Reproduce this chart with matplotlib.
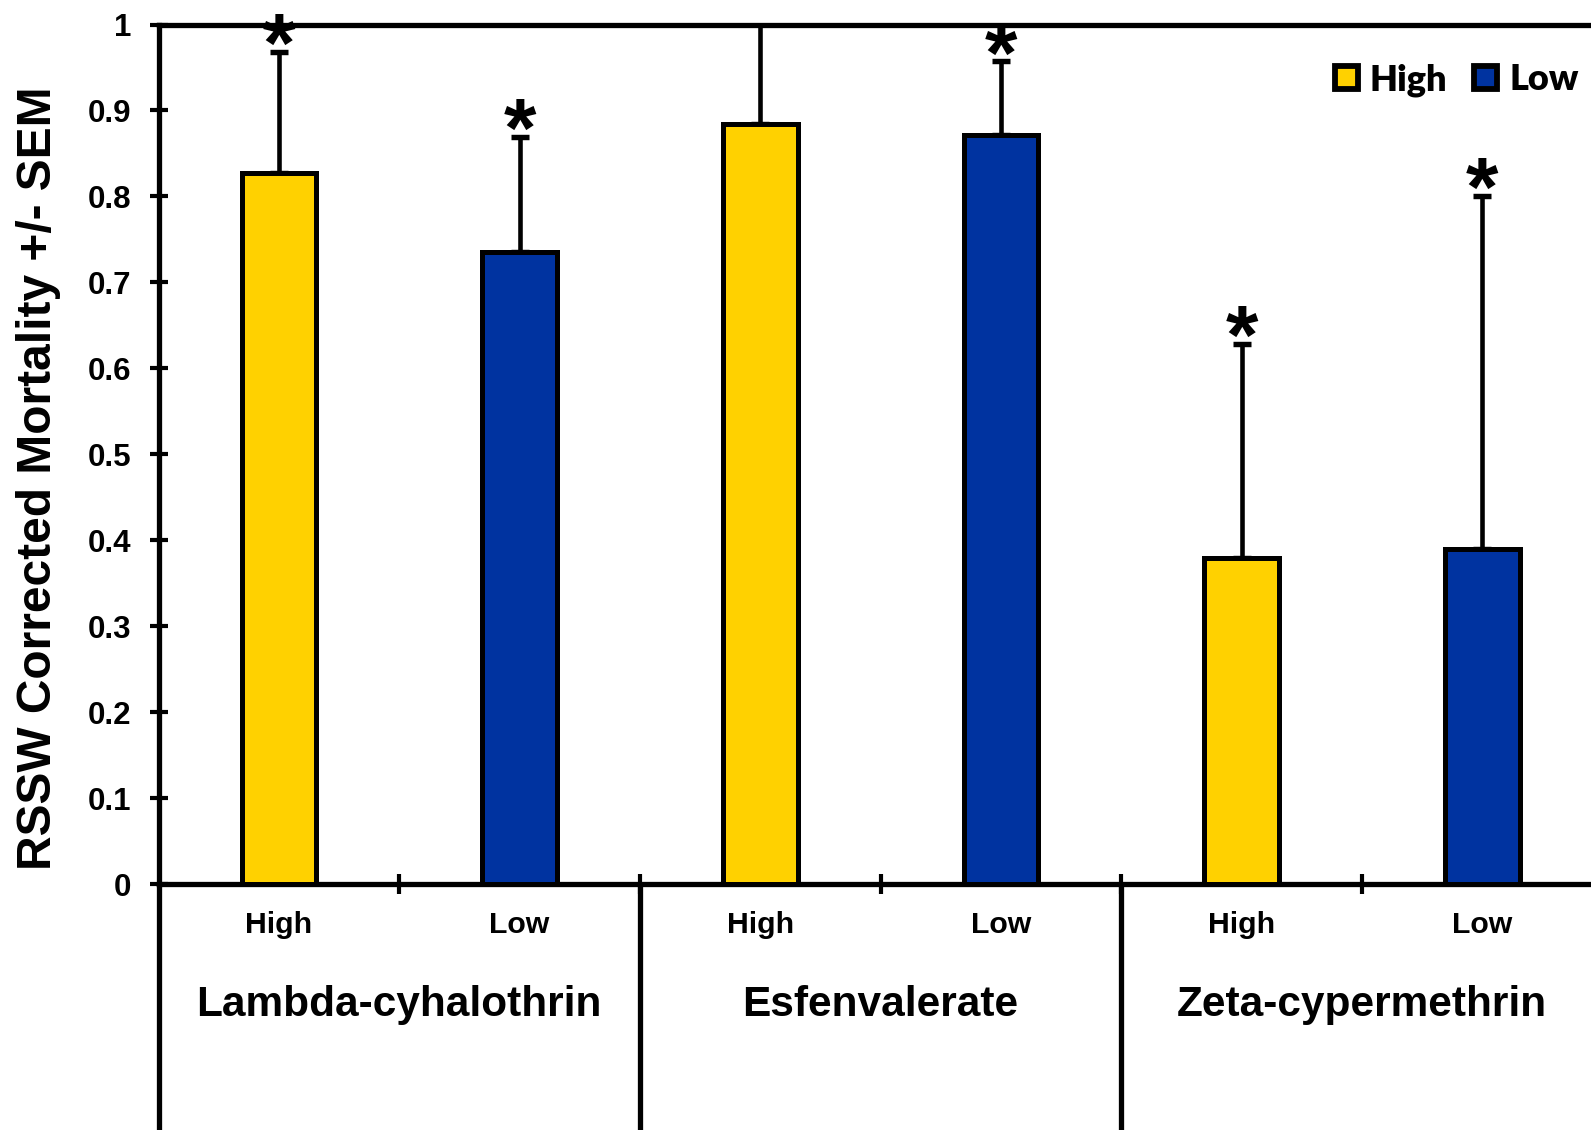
import matplotlib
matplotlib.use("Agg")
import matplotlib.pyplot as plt
from matplotlib.patches import Patch

# ---- data -------------------------------------------------------------
insecticides = ["Lambda-cyhalothrin", "Esfenvalerate", "Zeta-cypermethrin"]
rates = ["High", "Low"]
high_mortality = [0.827, 0.884, 0.379]
low_mortality = [0.735, 0.872, 0.390]
high_sem = [0.141, 0.140, 0.249]
low_sem = [0.134, 0.085, 0.411]
high_signif = [True, False, True]
low_signif = [True, True, True]
ytick_values = [0, 0.1, 0.2, 0.3, 0.4, 0.5, 0.6, 0.7, 0.8, 0.9, 1.0]
ytick_labels = ["0", "0.1", "0.2", "0.3", "0.4", "0.5", "0.6", "0.7", "0.8", "0.9", "1"]
ylabel = "RSSW Corrected Mortality +/- SEM"

# ---- style ------------------------------------------------------------
rate_colors = {"High": "#FFD100", "Low": "#0033A0"}
FONT = "Liberation Sans"
LEGEND_FONT = "Lato"
LW_AXIS = 3.8
LW_EDGE = 3.6
LW_ERR = 3.3

fig = plt.figure(figsize=(15.91, 11.30), dpi=100)
W, H = 1591.0, 1130.0
x_left, x_right = 158.5, 158.5 + 6 * 240.7
y_bottom, y_top = 884.0, 24.5
ax = fig.add_axes([x_left / W, 1 - y_bottom / H,
                   (x_right - x_left) / W, (y_bottom - y_top) / H])

# ---- bars, error bars and significance marks --------------------------
bar_width = 0.31
series = {
    "High": (high_mortality, high_sem, high_signif, 0.5),
    "Low": (low_mortality, low_sem, low_signif, 1.5),
}
for rate in rates:
    vals, sems, signif, offset = series[rate]
    xs = [2 * g + offset for g in range(len(insecticides))]
    ax.bar(xs, vals, width=bar_width, color=rate_colors[rate],
           edgecolor="black", linewidth=LW_EDGE, zorder=3, label=rate)
    ax.errorbar(xs, vals, yerr=[[0] * len(vals), sems], fmt="none",
                ecolor="black", elinewidth=LW_ERR, capsize=6.2,
                capthick=LW_ERR + 0.6, zorder=2)
    for x, v, s, sig in zip(xs, vals, sems, signif):
        if sig:
            ax.annotate("*", xy=(x, v + s), xytext=(0, -14.5),
                        textcoords="offset points", ha="center",
                        va="baseline", fontsize=60, fontweight="bold",
                        family=FONT, annotation_clip=False, zorder=4)

# ---- axes -------------------------------------------------------------
ax.set_xlim(0, 6)
ax.set_ylim(0, 1)
for side in ("left", "bottom", "top"):
    ax.spines[side].set_linewidth(LW_AXIS)
ax.spines["right"].set_visible(False)

ax.set_yticks(ytick_values)
ax.set_yticklabels(ytick_labels, fontsize=22.5, fontweight="bold", family=FONT)
ax.tick_params(axis="y", direction="inout", length=13, width=3, pad=13)

ax.set_xticks([1, 2, 3, 4, 5])
ax.set_xticklabels([])
ax.tick_params(axis="x", direction="inout", length=15, width=3)

xform = ax.get_xaxis_transform()
for g, name in enumerate(insecticides):
    for k, rate in enumerate(rates):
        ax.text(2 * g + 0.5 + k, (y_bottom - 932.7) / (y_bottom - y_top), rate,
                transform=xform, ha="center", va="baseline", fontsize=21.8,
                fontweight="bold", family=FONT)
    ax.text(2 * g + 1, (y_bottom - 1016) / (y_bottom - y_top), name,
            transform=xform, ha="center", va="baseline", fontsize=30.5,
            fontweight="bold", family=FONT)

# group separators running below the category axis
for xb in [0, 2, 4, 6]:
    ax.plot([xb, xb], [0, -0.35], transform=xform, color="black",
            lw=LW_AXIS, clip_on=False, solid_capstyle="butt")

fig.text(38.5 / W, 1 - 478 / H, ylabel, rotation=90, ha="center", va="center",
         fontsize=34.5, fontweight="bold", family=FONT)

# ---- legend -----------------------------------------------------------
handles = [Patch(facecolor=rate_colors[r], edgecolor="black", linewidth=4.2,
                 joinstyle="round")
           for r in rates]
fig.legend(handles, rates, loc="center left",
           bbox_to_anchor=(1335 / W, 1 - 80 / H), ncol=2, frameon=False,
           prop=dict(family=LEGEND_FONT, weight="heavy", size=26),
           handlelength=0.64, handleheight=0.64, handletextpad=0.32,
           columnspacing=0.75, borderpad=0, borderaxespad=0)

fig.savefig("out.png", dpi=100)
